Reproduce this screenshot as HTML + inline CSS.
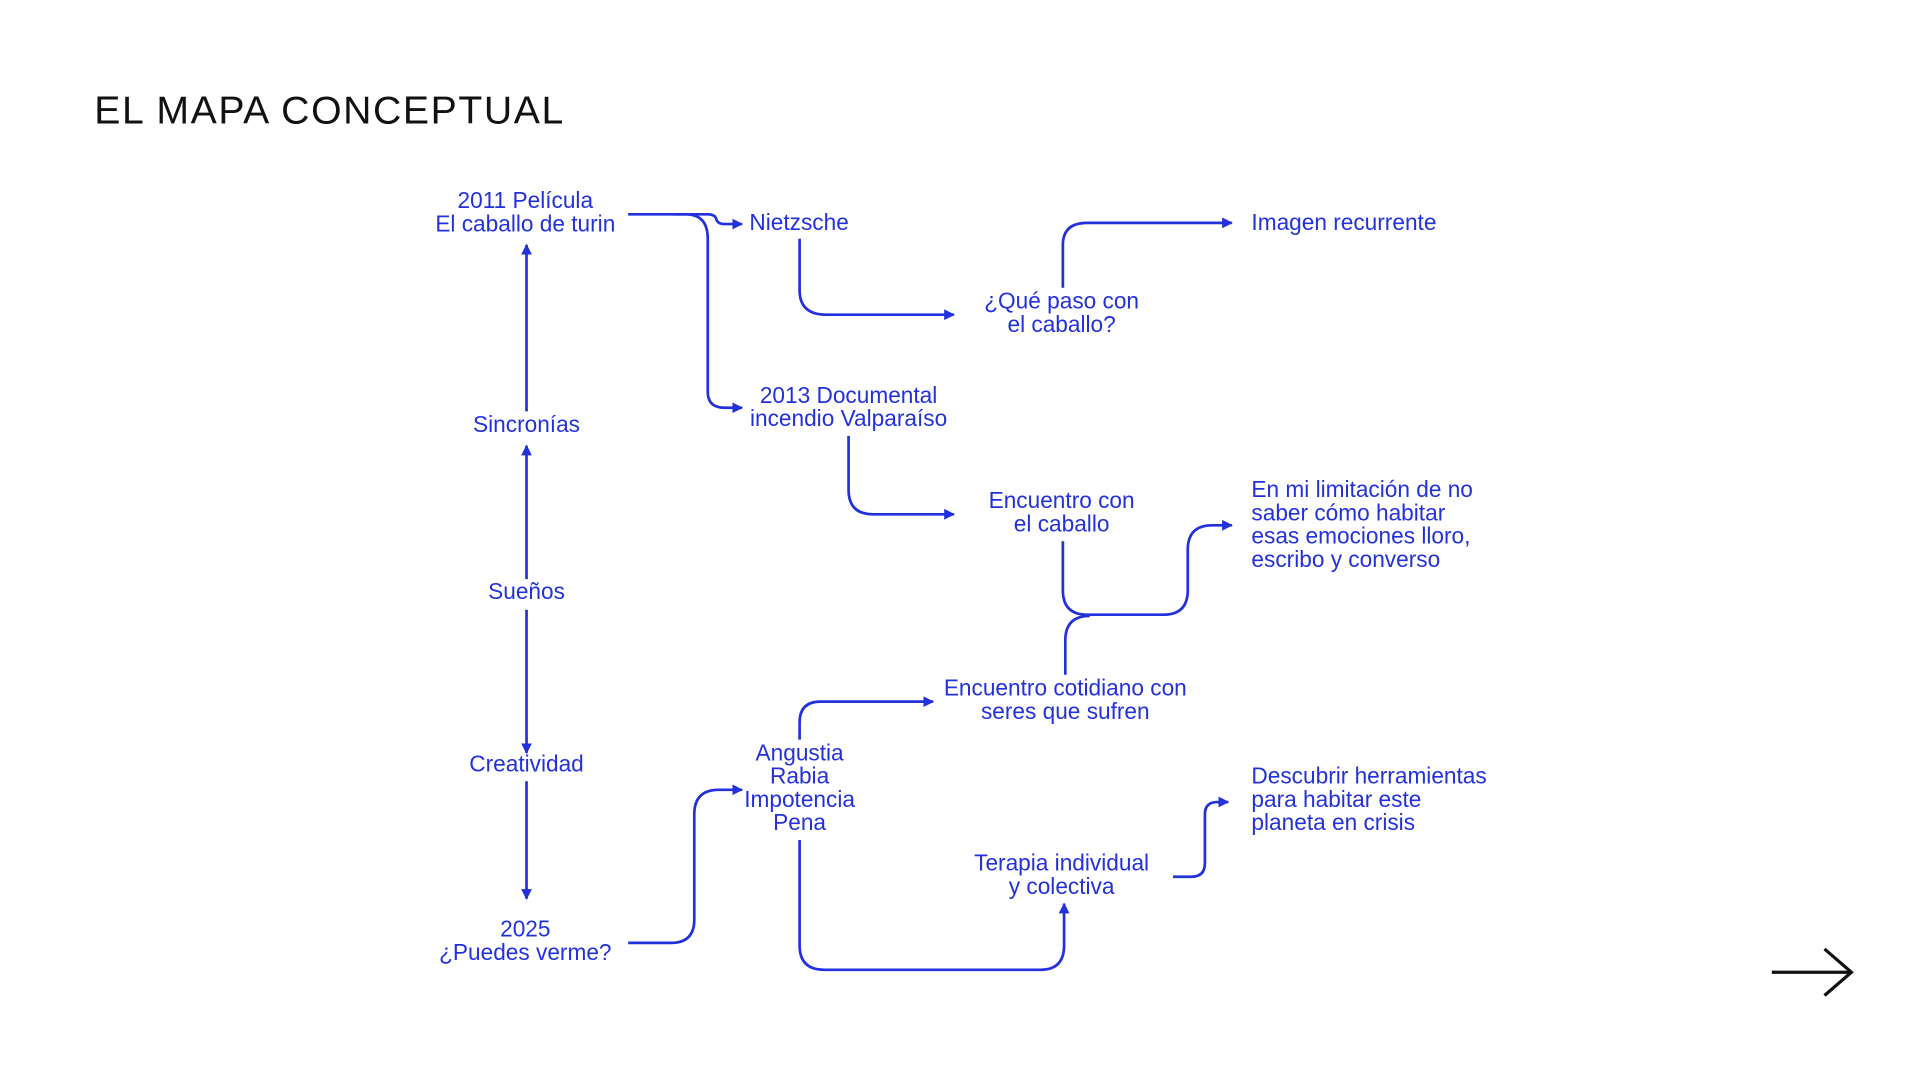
<!DOCTYPE html>
<html><head><meta charset="utf-8"><style>
html,body{margin:0;padding:0;background:#fff;width:1920px;height:1080px;overflow:hidden}
svg{display:block}
text{font-family:"Liberation Sans",sans-serif;fill:#2231dc;font-size:18.5px;letter-spacing:0px}
.c{text-anchor:middle}
path,line{fill:none;stroke:#2231dc;stroke-width:2.2}
</style></head><body>
<svg width="1920" height="1080" viewBox="0 0 1568 882" xmlns="http://www.w3.org/2000/svg">
<defs><marker id="a" viewBox="0 0 10 10" refX="9" refY="5" markerWidth="4" markerHeight="4" orient="auto-start-reverse" markerUnits="strokeWidth"><path d="M0,0 L10,5 L0,10 z" style="fill:#2231dc;stroke:none"/></marker></defs>
<text x="77" y="101" style="fill:#111;font-size:32px;letter-spacing:1.3px">EL MAPA CONCEPTUAL</text>

<text class="c" x="429" y="170">2011 Película</text>
<text class="c" x="429" y="189">El caballo de turin</text>
<text x="612" y="188">Nietzsche</text>
<text class="c" x="693" y="329">2013 Documental</text>
<text class="c" x="693" y="348">incendio Valparaíso</text>
<text class="c" x="867" y="252">¿Qué paso con</text>
<text class="c" x="867" y="271">el caballo?</text>
<text x="1022" y="188">Imagen recurrente</text>
<text class="c" x="867" y="415">Encuentro con</text>
<text class="c" x="867" y="434">el caballo</text>
<text x="1022" y="406">En mi limitación de no</text>
<text x="1022" y="425">saber cómo habitar</text>
<text x="1022" y="444">esas emociones lloro,</text>
<text x="1022" y="463">escribo y converso</text>
<text class="c" x="870" y="568">Encuentro cotidiano con</text>
<text class="c" x="870" y="587">seres que sufren</text>
<text class="c" x="653" y="621">Angustia</text>
<text class="c" x="653" y="640">Rabia</text>
<text class="c" x="653" y="659">Impotencia</text>
<text class="c" x="653" y="678">Pena</text>
<text class="c" x="867" y="711">Terapia individual</text>
<text class="c" x="867" y="730">y colectiva</text>
<text x="1022" y="640">Descubrir herramientas</text>
<text x="1022" y="659">para habitar este</text>
<text x="1022" y="678">planeta en crisis</text>
<text class="c" x="430" y="353">Sincronías</text>
<text class="c" x="430" y="489">Sueños</text>
<text class="c" x="430" y="630">Creatividad</text>
<text class="c" x="429" y="765">2025</text>
<text class="c" x="429" y="784">¿Puedes verme?</text>

<path d="M513,175 H578 Q584,175 585,179 Q586,183 592,183 H606" marker-end="url(#a)"/>
<path d="M550,175 H560 Q578,175 578,195 V320 Q578,333 592,333 H606" marker-end="url(#a)"/>
<path d="M653,195 V237 Q653,257 675,257 H779" marker-end="url(#a)"/>
<path d="M868,235 V200 Q868,182 888,182 H1006" marker-end="url(#a)"/>
<path d="M693,356 V400 Q693,420 713,420 H779" marker-end="url(#a)"/>
<path d="M868,442 V482 Q868,502 888,502 H950 Q970,502 970,482 V449 Q970,429 990,429 H1006" marker-end="url(#a)"/>
<path d="M890,503 Q870,503 870,523 V551"/>
<path d="M653,604 V590 Q653,573 670,573 H762" marker-end="url(#a)"/>
<path d="M513,770 H548 Q567,770 567,751 V665 Q567,645 587,645 H606" marker-end="url(#a)"/>
<path d="M653,686 V772 Q653,792 673,792 H850 Q869,792 869,772 V738" marker-end="url(#a)"/>
<path d="M958,716 H973 Q984,716 984,705 V665 Q984,655 994,655 H1003" marker-end="url(#a)"/>
<path d="M430,336 V200" marker-end="url(#a)"/>
<path d="M430,473 V364" marker-end="url(#a)"/>
<path d="M430,498 V615" marker-end="url(#a)"/>
<path d="M430,638 V734" marker-end="url(#a)"/>
<path d="M1447,794 H1512 M1490,775 L1512,794 L1490,813" style="stroke:#111;stroke-width:2.6"/>
</svg>
</body></html>
